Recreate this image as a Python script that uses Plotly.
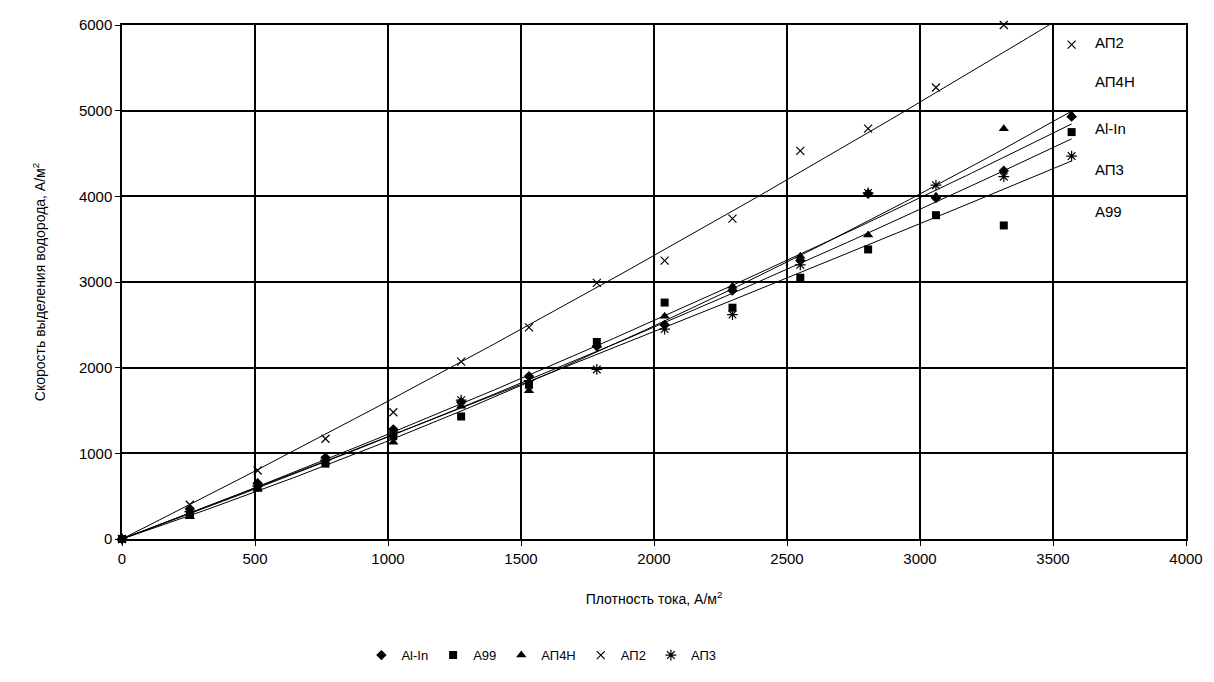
import numpy as np
import plotly.graph_objects as go

# Current density, A/m^2
current_density = [0, 255, 510, 765, 1020, 1275, 1530, 1785, 2040, 2295, 2550, 2805, 3060, 3315, 3570]

# Hydrogen evolution rate, A/m^2
al_in = [0, 350, 650, 950, 1280, 1600, 1900, 2250, 2500, 2900, 3250, 4030, 3980, 4300, 4930]
a99 = [0, 290, 600, 880, 1200, 1430, 1800, 2300, 2760, 2700, 3050, 3380, 3780, 3660, 4750]
ap4n = [0, 260, 580, 900, 1130, 1550, 1730, 2260, 2600, 2950, 3300, 3550, 4000, 4790, 4950]
ap2 = [0, 400, 800, 1170, 1480, 2070, 2470, 2990, 3250, 3740, 4530, 4790, 5270, 6000, 5770]
ap3 = [0, 320, 620, 920, 1250, 1620, 1850, 1980, 2450, 2620, 3200, 4040, 4130, 4230, 4470]

series_names = ["Al-In", "A99", "АП4Н", "АП2", "АП3"]
series_values = [al_in, a99, ap4n, ap2, ap3]
series_symbols = ["diamond", "square", "triangle-up", "x-thin-open", "asterisk-open"]
series_sizes = [8, 8, 9, 8, 9]

# Labels at the right edge of the plot (top to bottom)
right_labels = ["АП2", "АП4Н", "Al-In", "АП3", "А99"]
right_label_y = [5800, 5340, 4790, 4310, 3820]

x_ticks = [0, 500, 1000, 1500, 2000, 2500, 3000, 3500, 4000]
y_ticks = [0, 1000, 2000, 3000, 4000, 5000, 6000]

font_family = "Liberation Sans, Arial, sans-serif"

fig = go.Figure()

xs = np.array(current_density, dtype=float)
xfit = np.linspace(xs.min(), xs.max(), 200)

# Trend lines: 2nd order polynomial through the origin (y = a*x + b*x^2)
A = np.column_stack([xs, xs ** 2])
for name, vals in zip(series_names, series_values):
    (a, b), *_ = np.linalg.lstsq(A, np.array(vals, dtype=float), rcond=None)
    fig.add_trace(go.Scatter(
        x=xfit, y=a * xfit + b * xfit ** 2, mode="lines",
        line=dict(color="black", width=1), showlegend=False, hoverinfo="skip"))

for name, vals, sym, sz in zip(series_names, series_values, series_symbols, series_sizes):
    mk = dict(symbol=sym, size=sz, color="black")
    if sym.endswith("open"):
        mk["line"] = dict(color="black", width=1.2)
    fig.add_trace(go.Scatter(
        x=current_density, y=vals, mode="markers", name=name, marker=mk, cliponaxis=False))

for txt, yv in zip(right_labels, right_label_y):
    fig.add_annotation(x=3650, y=yv, text=txt, showarrow=False, xanchor="left",
                       yanchor="middle", font=dict(size=15, color="black", family=font_family))

axis_common = dict(
    showgrid=True, gridcolor="black", gridwidth=1.5,
    showline=True, linecolor="black", linewidth=1.5, mirror=True,
    zeroline=False, ticks="outside", ticklen=5, tickcolor="black",
    tickfont=dict(size=15, color="black", family=font_family),
)

fig.update_layout(
    width=1214, height=682,
    margin=dict(l=122, r=28, t=25, b=139),
    paper_bgcolor="white", plot_bgcolor="white",
    font=dict(family=font_family, color="black"),
    xaxis=dict(range=[0, 4000], tickvals=x_ticks,
               title=dict(text="Плотность тока, А/м<sup>2</sup>", standoff=28,
                          font=dict(size=14, color="black", family=font_family)),
               **axis_common),
    yaxis=dict(range=[0, 6000], tickvals=y_ticks,
               title=dict(text="Скорость выделения водорода, А/м<sup>2</sup>", standoff=30,
                          font=dict(size=14, color="black", family=font_family)),
               **axis_common),
    legend=dict(orientation="h", x=0.225, xanchor="left", y=-0.226, yanchor="middle",
                font=dict(size=13, color="black", family=font_family),
                itemwidth=30, tracegroupgap=0, bgcolor="rgba(0,0,0,0)"),
    showlegend=True,
)

fig.write_html("out.html")
